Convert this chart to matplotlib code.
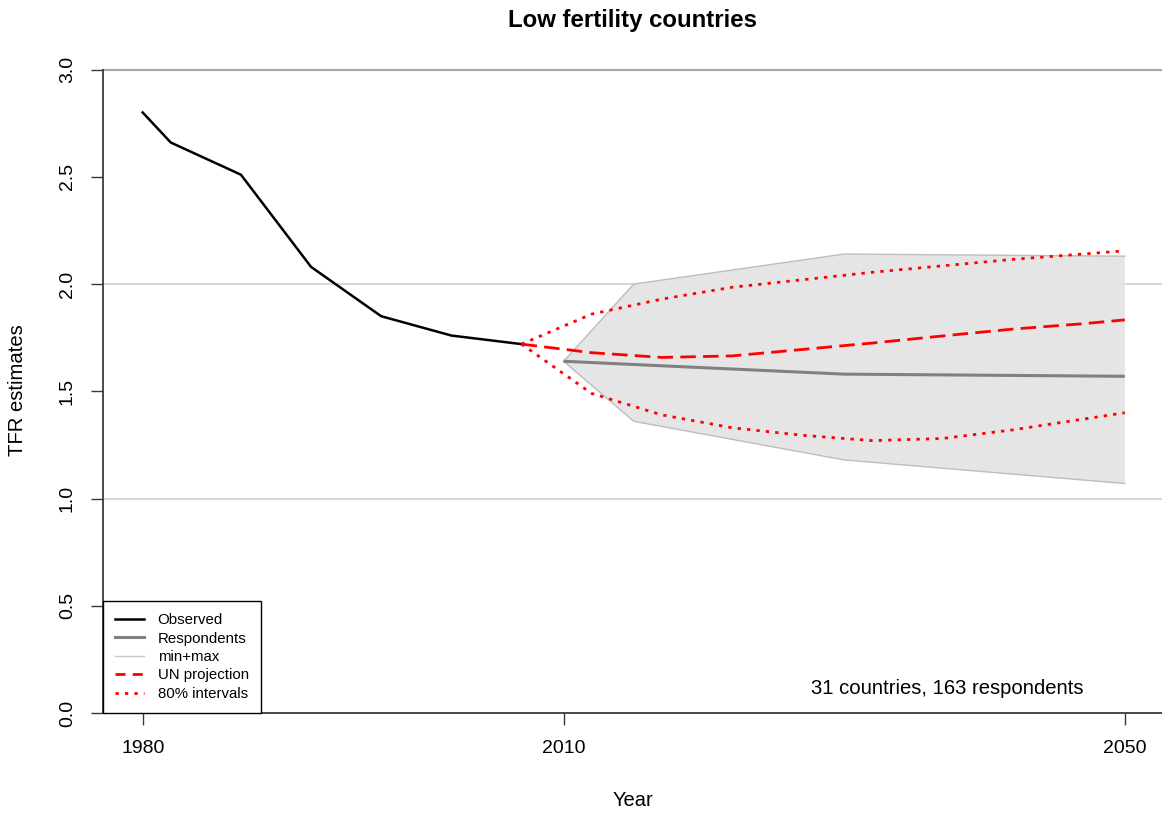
import matplotlib
matplotlib.use("Agg")
import matplotlib.pyplot as plt
from matplotlib.lines import Line2D

plt.rcParams['font.family'] = ['Liberation Sans', 'DejaVu Sans']

# ---- data ----
obs_years = [1980, 1982, 1987, 1992, 1997, 2002, 2007]
obs_tfr = [2.80, 2.66, 2.51, 2.08, 1.85, 1.76, 1.72]

resp_years = [2010, 2030, 2050]
resp_tfr = [1.64, 1.58, 1.57]

band_years = [2010, 2015, 2030, 2050]
band_min = [1.64, 1.36, 1.18, 1.07]
band_max = [1.64, 2.00, 2.14, 2.13]

un_years = [2007, 2012, 2017, 2022, 2027, 2032, 2037, 2042, 2047, 2050]
un_tfr = [1.72, 1.68, 1.658, 1.665, 1.695, 1.725, 1.758, 1.79, 1.815, 1.833]
un_upper = [1.72, 1.86, 1.93, 1.985, 2.02, 2.055, 2.085, 2.115, 2.14, 2.155]
un_lower = [1.72, 1.49, 1.39, 1.33, 1.295, 1.27, 1.28, 1.32, 1.37, 1.40]

x_ticks = [1980, 2010, 2050]
y_ticks = [0.0, 0.5, 1.0, 1.5, 2.0, 2.5, 3.0]
y_ticklabels = ["0.0", "0.5", "1.0", "1.5", "2.0", "2.5", "3.0"]
grid_levels = [1.0, 2.0]
top_level = 3.0

title = "Low fertility countries"
xlabel = "Year"
ylabel = "TFR estimates"
note = "31 countries, 163 respondents"
legend_labels = ["Observed", "Respondents", "min+max", "UN projection", "80% intervals"]

# ---- figure ----
W, H = 1162, 814
fig = plt.figure(figsize=(W / 100, H / 100), dpi=100)
ax = fig.add_axes([103 / W, 1 - 713 / H, (1162 - 103) / W, (713 - 69.6) / H])
ax.set_xlim(1977.17, 2052.65)
ax.set_ylim(0, 3.0)

axis_col = '#3a3a3a'
for s in ['top', 'right']:
    ax.spines[s].set_visible(False)
for s in ['left', 'bottom']:
    ax.spines[s].set_color(axis_col)
    ax.spines[s].set_linewidth(1.3)

for lv in grid_levels:
    ax.axhline(lv, color='#d3d3d3', lw=1.3, zorder=0)
ax.axhline(top_level, color='#a8a8a8', lw=1.6, zorder=0, clip_on=False)

# band
ax.fill_between(band_years, band_min, band_max, facecolor='#e5e5e5',
                edgecolor='none', zorder=1)
ax.plot(band_years, band_min, color='#bdbdbd', lw=1.0, zorder=2)
ax.plot(band_years, band_max, color='#bdbdbd', lw=1.0, zorder=2)

ax.plot(resp_years, resp_tfr, color='#808080', lw=2.2, zorder=3,
        solid_capstyle='butt')
ax.plot(obs_years, obs_tfr, color='black', lw=1.8, zorder=4)
ax.plot(un_years, un_tfr, color='#ff0000', lw=2.0, dashes=(5.6, 2.6), zorder=5)
ax.plot(un_years, un_upper, color='#ff0000', lw=2.0, dashes=(1.2, 2.2), zorder=5)
ax.plot(un_years, un_lower, color='#ff0000', lw=2.0, dashes=(1.2, 2.2), zorder=5)

# ticks
ax.set_xticks(x_ticks)
ax.set_xticklabels([str(t) for t in x_ticks], fontsize=14)
ax.set_yticks(y_ticks)
ax.set_yticklabels(y_ticklabels, fontsize=14, rotation=90, va='center')
ax.tick_params(axis='both', length=8.6, width=1.0, color=axis_col)
ax.tick_params(axis='x', pad=10.5)
ax.tick_params(axis='y', pad=11)

fig.text(632.5 / W, 1 - 20 / H, title, ha='center', va='center',
         fontsize=17.3, fontweight='bold')
fig.text(632.5 / W, 1 - 800.5 / H, xlabel, ha='center', va='center', fontsize=14.5)
fig.text(18 / W, 1 - 390 / H, ylabel, ha='center', va='center',
         fontsize=14.6, rotation=90)

ax.text(2047.09, 0.112, note, ha='right', va='center', fontsize=14.6)

handles = [
    Line2D([], [], color='black', lw=1.8),
    Line2D([], [], color='#808080', lw=2.2),
    Line2D([], [], color='#c8c8c8', lw=1.0),
    Line2D([], [], color='#ff0000', lw=2.0, dashes=(3.6, 2.6)),
    Line2D([], [], color='#ff0000', lw=2.0, dashes=(1.2, 2.2)),
]
leg = ax.legend(handles, legend_labels, loc='lower left', bbox_to_anchor=(0, 0),
                borderaxespad=0, fancybox=False, edgecolor='black', framealpha=1,
                fontsize=10.8, handlelength=1.9, handletextpad=0.95,
                labelspacing=0.3, borderpad=0.8)
leg.get_frame().set_linewidth(1.0)
leg.set_zorder(10)

fig.savefig('out.png', dpi=100)
